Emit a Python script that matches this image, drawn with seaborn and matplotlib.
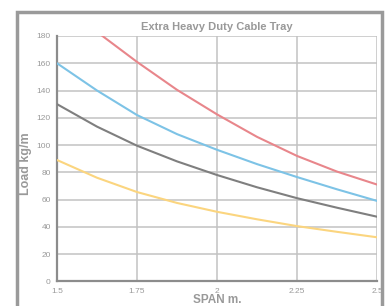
import numpy as np
import pandas as pd
import seaborn as sns
import matplotlib.pyplot as plt
from matplotlib.patches import Rectangle

span = [1.5, 1.625, 1.75, 1.875, 2.0, 2.125, 2.25, 2.375, 2.5]
red_load = [208, 183, 161, 140.5, 122.5, 106, 92, 80.5, 71]
blue_load = [160, 140, 122, 108, 96.5, 86, 76.5, 67.5, 59]
gray_load = [130, 113.5, 99.5, 88, 78, 69, 61, 54, 47.4]
yellow_load = [89, 76, 65.5, 57.5, 51, 45.5, 40.5, 36.3, 32.3]

x_ticks = [1.5, 1.75, 2, 2.25, 2.5]
x_tick_labels = ["1.5", "1.75", "2", "2.25", "2.5"]
y_ticks = list(range(0, 181, 20))

series = {"red": red_load, "blue": blue_load, "gray": gray_load, "yellow": yellow_load}
colors = {"red": "#e8868b", "blue": "#7dc3e6", "gray": "#7f7f7f", "yellow": "#fbd57f"}

df = pd.DataFrame(
    [(s, name, v) for name, vals in series.items() for s, v in zip(span, vals)],
    columns=["span", "series", "load"],
)

sns.set_style("white")
plt.rcParams["font.family"] = ["Liberation Sans", "DejaVu Sans"]

fig = plt.figure(figsize=(3.86, 3.06), dpi=100)
ax = fig.add_axes([57 / 386, 1 - 281.3 / 306, 320 / 386, 245.3 / 306])

sns.lineplot(data=df, x="span", y="load", hue="series", palette=colors,
             linewidth=1.5, legend=False, ax=ax, zorder=3)

ax.set_xlim(1.5, 2.5)
ax.set_ylim(0, 180)
ax.set_xticks(x_ticks)
ax.set_xticklabels(x_tick_labels)
ax.set_yticks(y_ticks)
ax.grid(True, color="#c2c2c2", linewidth=1.1, zorder=0)
ax.set_axisbelow(True)

for side in ["top", "right"]:
    ax.spines[side].set_visible(False)
for side in ["left", "bottom"]:
    ax.spines[side].set_color("#8c8c8c")
    ax.spines[side].set_linewidth(1.6)

ax.tick_params(axis="both", colors="#8c8c8c", labelcolor="#999999",
               labelsize=6, length=2.5, width=1, pad=2)

ax.set_title("Extra Heavy Duty Cable Tray", fontsize=8, fontweight="bold",
             color="#999999", pad=4)
ax.set_xlabel("SPAN m.", fontsize=8.5, fontweight="bold", color="#999999")
ax.set_ylabel("Load kg/m", fontsize=9, fontweight="bold", color="#999999")
ax.xaxis.set_label_coords(0.5, -0.05)
ax.yaxis.set_label_coords(-0.078, 0.48)

fig.patches.append(Rectangle((17 / 386, -0.2), 365 / 386, 1.2 - 12 / 306,
                             transform=fig.transFigure, fill=False,
                             edgecolor="#9a9a9a", linewidth=2.5))

fig.savefig("out.png", dpi=100)
